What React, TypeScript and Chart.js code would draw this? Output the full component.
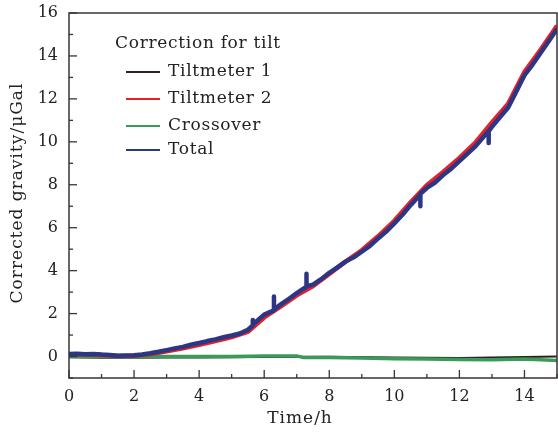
import React, { useEffect, useRef } from "react";
import { Chart, registerables } from "chart.js";

Chart.register(...registerables);

const totalHours = [0, 0.25, 0.5, 0.75, 1, 1.25, 1.5, 1.75, 2, 2.25, 2.5, 2.75, 3, 3.25, 3.5, 3.75, 4, 4.25, 4.5, 4.75, 5, 5.25, 5.5, 5.65, 5.65, 5.65, 5.75, 6, 6.3, 6.3, 6.3, 6.5, 6.75, 7, 7.3, 7.3, 7.3, 7.5, 7.75, 8, 8.25, 8.5, 8.75, 9, 9.25, 9.5, 9.75, 10, 10.25, 10.5, 10.8, 10.8, 10.8, 11, 11.25, 11.5, 11.75, 12, 12.25, 12.5, 12.75, 12.9, 12.9, 12.9, 13, 13.25, 13.5, 13.75, 14, 14.25, 14.5, 14.75, 15];
const totalValues = [0.12, 0.13, 0.11, 0.12, 0.09, 0.07, 0.04, 0.05, 0.06, 0.09, 0.15, 0.22, 0.3, 0.38, 0.45, 0.55, 0.63, 0.72, 0.8, 0.9, 0.98, 1.07, 1.25, 1.45, 1.7, 1.5, 1.62, 1.95, 2.15, 2.8, 2.18, 2.42, 2.68, 2.95, 3.25, 3.85, 3.28, 3.35, 3.6, 3.9, 4.15, 4.42, 4.62, 4.88, 5.15, 5.5, 5.82, 6.2, 6.6, 7.05, 7.55, 7.0, 7.58, 7.85, 8.1, 8.45, 8.75, 9.1, 9.45, 9.8, 10.25, 10.5, 9.95, 10.5, 10.7, 11.15, 11.6, 12.35, 13.1, 13.6, 14.15, 14.7, 15.25];

const tilt2Hours = [0, 0.5, 1, 1.5, 2, 2.5, 3, 3.5, 4, 4.5, 5, 5.5, 6, 6.5, 7, 7.5, 8, 8.5, 9, 9.5, 10, 10.5, 11, 11.5, 12, 12.5, 13, 13.5, 14, 14.5, 15];
const tilt2Values = [0.1, 0.1, 0.07, 0.03, 0.04, 0.1, 0.24, 0.38, 0.55, 0.72, 0.9, 1.15, 1.82, 2.32, 2.85, 3.28, 3.85, 4.42, 4.95, 5.6, 6.32, 7.18, 7.98, 8.6, 9.25, 9.98, 10.9, 11.78, 13.25, 14.3, 15.4];

const crossHours = [0, 1, 2, 3, 4, 5, 6, 7, 7.2, 8, 9, 10, 11, 12, 13, 14, 15];
const crossValues = [0.0, 0.0, -0.02, 0.0, 0.0, 0.0, 0.02, 0.03, -0.04, -0.05, -0.07, -0.1, -0.12, -0.14, -0.15, -0.12, -0.18];

const tilt1Hours = [0, 1, 2, 3, 4, 6, 8, 10, 12, 14, 15];
const tilt1Values = [-0.03, -0.06, -0.06, -0.05, -0.04, -0.02, -0.01, -0.05, -0.07, -0.02, 0.0];

const seriesNames = ["Tiltmeter 1", "Tiltmeter 2", "Crossover", "Total"];
const seriesColors = ["#2b1f1f", "#e4222c", "#3a9a58", "#2c3682"];
const legendTitle = "Correction for tilt";
const xTitle = "Time/h";
const yTitle = "Corrected gravity/\u03bcGal";
const xMajorTicks = [0, 2, 4, 6, 8, 10, 12, 14];
const yMajorTicks = [0, 2, 4, 6, 8, 10, 12, 14, 16];

const FONT = "'DejaVu Serif', serif";

function pts(xs: number[], ys: number[]) {
  return xs.map((x, i) => ({ x, y: ys[i] }));
}

const decorPlugin = {
  id: "decor",
  afterDraw(chart: any) {
    const ctx = chart.ctx;
    const { left, right, top, bottom } = chart.chartArea;
    const xs = chart.scales.x;
    const ys = chart.scales.y;
    ctx.save();
    ctx.strokeStyle = "#3a3434";
    ctx.lineWidth = 1.5;
    ctx.strokeRect(left, top, right - left, bottom - top);
    ctx.lineWidth = 1.3;
    for (let v = xs.min; v <= xs.max; v++) {
      const p = xs.getPixelForValue(v);
      const len = xMajorTicks.includes(v) ? 8 : 4;
      ctx.beginPath();
      ctx.moveTo(p, bottom);
      ctx.lineTo(p, bottom - len);
      ctx.stroke();
    }
    for (let v = ys.min; v <= ys.max; v++) {
      const p = ys.getPixelForValue(v);
      const len = yMajorTicks.includes(v) ? 8 : 4;
      ctx.beginPath();
      ctx.moveTo(left, p);
      ctx.lineTo(left + len, p);
      ctx.stroke();
    }
    ctx.fillStyle = "#222";
    ctx.font = `17px ${FONT}`;
    ctx.textBaseline = "middle";
    (ctx as any).letterSpacing = "1px";
    ctx.textAlign = "center";
    ctx.fillText(xTitle, 300, 419);
    ctx.save();
    ctx.translate(18, 193);
    ctx.rotate(-Math.PI / 2);
    ctx.fillText(yTitle, 0, 0);
    ctx.restore();
    (ctx as any).letterSpacing = "0.7px";
    ctx.textAlign = "left";
    ctx.fillText(legendTitle, 115, 44);
    const rows = [72, 99, 126, 150];
    seriesNames.forEach((name, i) => {
      ctx.strokeStyle = seriesColors[i];
      ctx.lineWidth = 2;
      ctx.beginPath();
      ctx.moveTo(126, rows[i]);
      ctx.lineTo(160, rows[i]);
      ctx.stroke();
      ctx.fillStyle = "#222";
      ctx.fillText(name, 168, rows[i]);
    });
    ctx.restore();
  },
};

export default function App() {
  const ref = useRef<HTMLCanvasElement>(null);
  useEffect(() => {
    document.body.style.margin = "0";
    const chart = new Chart(ref.current!, {
      type: "line",
      data: {
        datasets: [
          { label: seriesNames[0], data: pts(tilt1Hours, tilt1Values), borderColor: seriesColors[0], borderWidth: 2, pointRadius: 0, order: 4 },
          { label: seriesNames[2], data: pts(crossHours, crossValues), borderColor: seriesColors[2], borderWidth: 3.5, pointRadius: 0, order: 3 },
          { label: seriesNames[1], data: pts(tilt2Hours, tilt2Values), borderColor: seriesColors[1], borderWidth: 4.5, pointRadius: 0, order: 2 },
          { label: seriesNames[3], data: pts(totalHours, totalValues), borderColor: seriesColors[3], borderWidth: 4.5, borderJoinStyle: "round", pointRadius: 0, order: 1 },
        ],
      },
      options: {
        animation: false,
        responsive: false,
        events: [],
        layout: { padding: { top: 13, right: 1, left: 0, bottom: 0 } },
        plugins: { legend: { display: false }, tooltip: { enabled: false } },
        scales: {
          x: {
            type: "linear",
            min: 0,
            max: 15,
            afterFit: (s: any) => { s.height = 54; s.paddingLeft = 0; s.paddingRight = 0; },
            grid: { display: false, drawTicks: false },
            border: { display: false },
            ticks: {
              stepSize: 1,
              padding: 9,
              color: "#222",
              font: { family: FONT, size: 16 },
              maxRotation: 0,
              autoSkip: false,
              callback: (v: any) => (xMajorTicks.includes(v) ? String(v) : ""),
            },
          },
          y: {
            min: -1,
            max: 16,
            afterFit: (s: any) => { s.width = 69; s.paddingTop = 0; s.paddingBottom = 0; },
            grid: { display: false, drawTicks: false },
            border: { display: false },
            ticks: {
              stepSize: 1,
              padding: 11,
              color: "#222",
              font: { family: FONT, size: 16 },
              autoSkip: false,
              callback: (v: any) => (yMajorTicks.includes(v) ? String(v) : ""),
            },
          },
        },
      },
      plugins: [decorPlugin],
    });
    return () => chart.destroy();
  }, []);
  return <canvas ref={ref} width={558} height={432} style={{ display: "block" }} />;
}
